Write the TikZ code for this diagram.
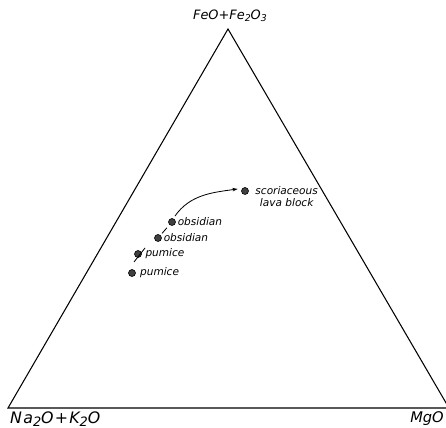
\documentclass[tikz,border=0pt]{standalone}
\usepackage{fontspec}
\setsansfont{DejaVu Sans}
\usetikzlibrary{positioning, arrows.meta}
\newcommand{\sbs}[2]{\raisebox{-0.35ex}{\fontsize{#1}{#1}\selectfont #2}}

\begin{document}
\begin{tikzpicture}[x=0.03cm, y=0.03cm,
    corner/.style={font=\sffamily\itshape\fontsize{12.5}{14}\selectfont, inner sep=0pt},
    sample/.style={circle, draw=black, fill=black!75, minimum size=0.21cm, inner sep=0pt, line width=0.5pt},
    rocklabel/.style={font=\sffamily\itshape\fontsize{9}{10}\selectfont, inner sep=0pt, align=center},
    trend/.style={line width=0.7pt},
    arrow/.style={-{Stealth[length=4.5pt, width=3pt]}, line width=0.7pt}
]
\useasboundingbox (0,0) rectangle (446,428);

\coordinate (fe) at (228,399);
\coordinate (na) at (8,20);
\coordinate (mg) at (449,20);
\draw[line width=0.9pt] (na) -- (fe) -- (mg) -- cycle;

\node[corner, font=\sffamily\itshape\fontsize{11}{12}\selectfont] (feLab) at (230,412) {FeO+Fe\sbs{8}{2}O\sbs{8}{3}};
\node[corner, anchor=west, font=\sffamily\itshape\fontsize{13.5}{15}\selectfont] (naLab) at (10,9) {\addfontfeature{LetterSpace=8}Na\sbs{11}{2}O\kern1pt+\kern1ptK\sbs{11}{2}O};
\node[corner, anchor=east] (mgLab) at (444,9) {MgO};

\node[sample] (pum1) at (132,155) {};
\node[sample] (pum2) at (138,174) {};
\node[sample] (obs1) at (158,190) {};
\node[sample] (obs2) at (172,206) {};
\node[sample] (scor) at (245,237) {};

\node[rocklabel, right=3.5pt of pum1] (pum1Lab) {pumice};
\node[rocklabel, right=3pt of pum2] (pum2Lab) {pumice};
\node[rocklabel, right=1.5pt of obs1] (obs1Lab) {obsidian};
\node[rocklabel, right=1.5pt of obs2] (obs2Lab) {obsidian};
\node[rocklabel, right=5.5pt of scor, yshift=-4.5pt] (scorLab) {scoriaceous\\lava block};

\draw[trend] ([shift={(-4,-8)}]pum2.center) -- ([shift={(7,6)}]pum2.center);
\draw[trend, shorten <=2pt, shorten >=3.4pt] (obs1) -- (obs2);
\draw[arrow, shorten <=2.5pt, shorten >=4pt] (obs2.70) to[out=55, in=188] (scor.135);

\end{tikzpicture}
\end{document}
